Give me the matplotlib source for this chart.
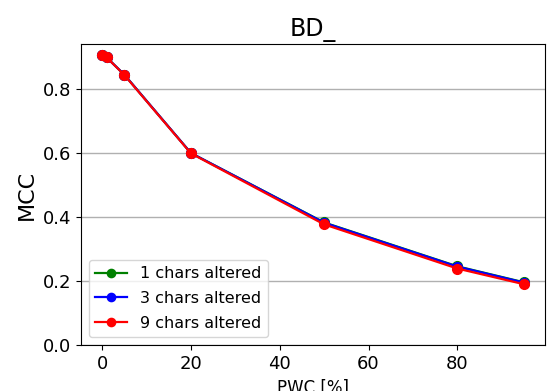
import matplotlib
matplotlib.use('Agg')
import matplotlib.pyplot as plt

# PWC [%] vs MCC, one line per number of altered chars
pwc = [0, 1, 5, 20, 50, 80, 95]
mcc_1 = [0.905, 0.899, 0.845, 0.600, 0.383, 0.246, 0.196]
mcc_3 = [0.905, 0.899, 0.845, 0.600, 0.382, 0.245, 0.195]
mcc_9 = [0.905, 0.899, 0.844, 0.599, 0.377, 0.239, 0.190]
labels = ['1 chars altered', '3 chars altered', '9 chars altered']

fig = plt.figure(figsize=(5.47, 3.91), dpi=100)
ax = fig.add_axes([81 / 547, 46 / 391, 464 / 547, 301 / 391])

ax.plot(pwc, mcc_1, '-o', color='green', lw=1.6, ms=7, label=labels[0])
ax.plot(pwc, mcc_3, '-o', color='blue', lw=1.6, ms=7, label=labels[1])
ax.plot(pwc, mcc_9, '-o', color='red', lw=1.6, ms=7, label=labels[2])

ax.set_ylim(bottom=0)
ax.yaxis.grid(True, color='#b0b0b0', lw=1)
ax.set_axisbelow(True)
ax.set_title('BD_', fontsize=17)
ax.set_xlabel('PWC [%]', fontsize=12)
ax.set_ylabel('MCC', fontsize=16)
ax.tick_params(labelsize=13)
ax.legend(loc='lower left', fontsize=11.5, labelspacing=0.6, markerscale=0.85)

fig.savefig('out.png', dpi=100)
